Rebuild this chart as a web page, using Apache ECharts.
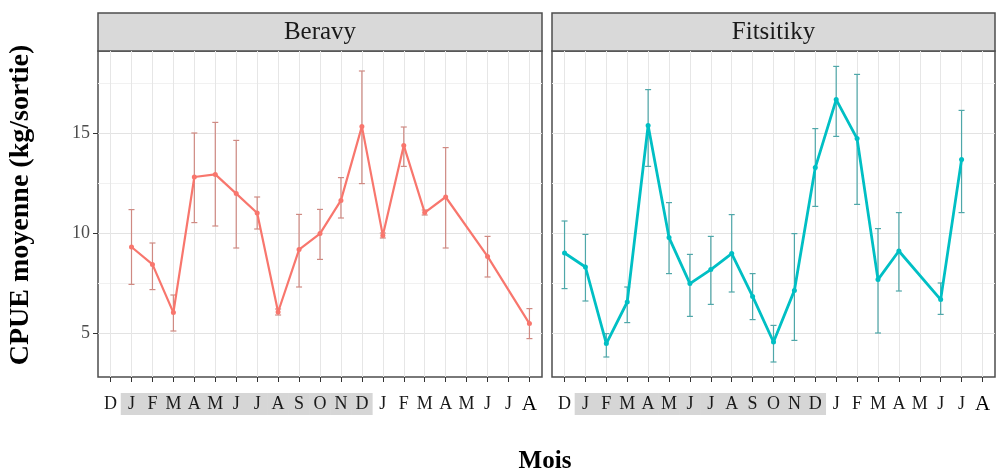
<!DOCTYPE html>
<html><head><meta charset="utf-8">
<script src="https://cdn.jsdelivr.net/npm/echarts@6/dist/echarts.min.js"></script>
<style>html,body{margin:0;padding:0;background:#fff}#c{width:998px;height:472px}</style>
</head><body><div id="c"></div>
<script>
// ---- data ----
const months = ['D','J','F','M','A','M','J','J','A','S','O','N','D','J','F','M','A','M','J','J','A'];
const panelNames = ['Beravy', 'Fitsitiky'];
const yTicks = [5, 10, 15];
const yMinorTicks = [7.5, 12.5, 17.5];
const highlightFrom = 2;   // J
const highlightTo = 13;    // D
const beravyMean = [null, 9.3, 8.43, 6.02, 12.8, 12.93, 11.97, 11.0, 6.05, 9.17, 9.97, 11.63, 15.33, 9.88, 14.38, 11.02, 11.8, null, 8.83, null, 5.47];
const beravyLow  = [null, 7.43, 7.17, 5.1, 10.52, 10.35, 9.25, 10.2, 5.9, 7.3, 8.68, 10.75, 12.47, 9.75, 13.33, 10.9, 9.25, null, 7.8, null, 4.72];
const beravyHigh = [null, 11.17, 9.5, 6.9, 15.0, 15.53, 14.63, 11.8, 6.2, 10.93, 11.18, 12.77, 18.1, 10.0, 15.3, 11.15, 14.27, null, 9.83, null, 6.22];
const fitsMean = [9.0, 8.3, 4.47, 6.55, 15.38, 9.77, 7.47, 8.17, 8.97, 6.83, 4.55, 7.13, 13.27, 16.67, 14.72, 7.67, 9.1, null, 6.67, 13.67, null];
const fitsLow  = [7.22, 6.6, 3.8, 5.52, 13.33, 7.97, 5.83, 6.43, 7.05, 5.67, 3.55, 4.63, 11.33, 14.83, 11.43, 5.0, 7.1, null, 5.93, 11.02, null];
const fitsHigh = [10.6, 9.93, 4.97, 7.3, 17.17, 11.52, 8.93, 9.83, 10.92, 7.97, 5.38, 9.97, 15.22, 18.33, 17.93, 10.22, 11.02, null, 7.5, 16.13, null];

// ---- layout / style ----
const grids = [
  {left: 98, top: 51, width: 444, height: 326},
  {left: 552, top: 51, width: 443, height: 326}
];
const lineColors = ['#F8766D', '#00BFC4'];
const barColors = ['#cf8a83', '#4fa7a9'];
const lineWidths = [2.2, 2.8];
const means = [beravyMean, fitsMean];
const lows = [beravyLow, fitsLow];
const highs = [beravyHigh, fitsHigh];
const serif = 'Liberation Serif';
const tickIdx = months.map((m, i) => i + 1);

function xLabel(v) {
  const i = Math.round(v);
  const m = months[i - 1];
  if (i >= highlightFrom && i <= highlightTo) return '{h|' + m + '}';
  if (i === months.length) return '{a|' + m + '}';
  return '{n|' + m + '}';
}

const xAxes = [], yAxes = [], series = [], graphic = [];
grids.forEach((g, k) => {
  xAxes.push({
    type: 'value', gridIndex: k, min: 0.4, max: 21.6,
    axisLine: {show: false},
    axisTick: {show: true, length: 5, inside: false, customValues: tickIdx, lineStyle: {color: '#333', width: 1}},
    axisLabel: {customValues: tickIdx, formatter: xLabel, margin: 16, showMinLabel: true, showMaxLabel: true, hideOverlap: false, interval: 0,
      rich: {
        h: {backgroundColor: '#d6d6d6', width: 21.5, height: 22, lineHeight: 22, align: 'center', fontFamily: serif, fontSize: 18, color: '#1a1a1a'},
        n: {width: 17, height: 22, lineHeight: 22, align: 'center', fontFamily: serif, fontSize: 18, color: '#1a1a1a'},
        a: {width: 17, height: 22, lineHeight: 22, align: 'center', fontFamily: serif, fontSize: 21, color: '#000'}
      }},
    splitLine: {show: true, lineStyle: {color: '#e6e6e6', width: 1}}
  });
  yAxes.push({
    type: 'value', gridIndex: k, min: 2.8, max: 19.1,
    axisLine: {show: false},
    axisTick: {show: k === 0, length: 5, customValues: yTicks, lineStyle: {color: '#333'}},
    axisLabel: {show: k === 0, customValues: yTicks, fontFamily: serif, fontSize: 18, color: '#4d4d4d', margin: 8},
    splitLine: {show: true, lineStyle: {color: '#e3e3e3', width: 1}}
  });
  yAxes.push({
    type: 'value', gridIndex: k, min: 2.8, max: 19.1,
    axisLine: {show: false},
    axisTick: {show: false, customValues: yMinorTicks},
    axisLabel: {show: false, customValues: yMinorTicks},
    splitLine: {show: true, lineStyle: {color: '#f1f1f1', width: 1}}
  });
  const yi = k * 2;
  const lineData = [], errData = [];
  means[k].forEach((v, i) => {
    if (v !== null) {
      lineData.push([i + 1, v]);
      errData.push([i + 1, lows[k][i], highs[k][i]]);
    }
  });
  const bc = barColors[k];
  series.push({
    type: 'custom', xAxisIndex: k, yAxisIndex: yi, data: errData, z: 3,
    encode: {x: 0, y: [1, 2]},
    renderItem: function (params, api) {
      const x = api.value(0);
      const pLo = api.coord([x, api.value(1)]);
      const pHi = api.coord([x, api.value(2)]);
      const w = 3;
      const st = {stroke: bc, lineWidth: 1.2};
      return {type: 'group', children: [
        {type: 'line', shape: {x1: pLo[0], y1: pLo[1], x2: pHi[0], y2: pHi[1]}, style: st},
        {type: 'line', shape: {x1: pLo[0] - w, y1: pLo[1], x2: pLo[0] + w, y2: pLo[1]}, style: st},
        {type: 'line', shape: {x1: pHi[0] - w, y1: pHi[1], x2: pHi[0] + w, y2: pHi[1]}, style: st}
      ]};
    }
  });
  series.push({
    type: 'line', xAxisIndex: k, yAxisIndex: yi, data: lineData, z: 4,
    symbol: 'circle', symbolSize: 5, showSymbol: true,
    itemStyle: {color: lineColors[k]},
    lineStyle: {color: lineColors[k], width: lineWidths[k]},
    animation: false
  });
  // panel strip
  graphic.push({type: 'rect', shape: {x: g.left, y: 13, width: g.width, height: g.top - 13},
    style: {fill: '#d9d9d9', stroke: '#4d4d4d', lineWidth: 1.5}});
  graphic.push({type: 'text', x: g.left + g.width / 2, y: 32,
    style: {text: panelNames[k], font: '25px "Liberation Serif"', fill: '#1a1a1a', align: 'center', verticalAlign: 'middle'}});
});

graphic.push({type: 'text', x: 21, y: 205, rotation: Math.PI / 2,
  style: {text: 'CPUE moyenne (kg/sortie)', font: 'bold 28px "Liberation Serif"', fill: '#000', align: 'center', verticalAlign: 'middle'}});
graphic.push({type: 'text', x: 545, y: 462,
  style: {text: 'Mois', font: 'bold 25px "Liberation Serif"', fill: '#000', align: 'center', verticalAlign: 'middle'}});

const chart = echarts.init(document.getElementById('c'), null, {renderer: 'canvas'});
chart.setOption({
  animation: false,
  backgroundColor: '#fff',
  grid: grids.map(g => Object.assign({show: true, borderColor: '#4d4d4d', borderWidth: 1.5, backgroundColor: '#fff', containLabel: false}, g)),
  xAxis: xAxes,
  yAxis: yAxes,
  series: series,
  graphic: graphic
});
</script></body></html>
